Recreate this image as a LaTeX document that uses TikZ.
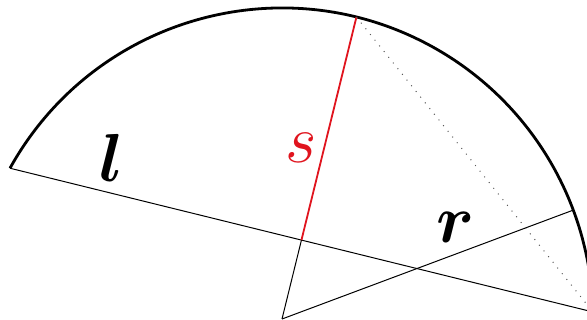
\documentclass[tikz,border=0pt]{standalone}
\usepackage{amsmath}
\usetikzlibrary{calc}
\definecolor{sagred}{HTML}{E0141E}

\begin{document}
\begin{tikzpicture}[x=1pt, y=-1pt,
      thin line/.style={line width=1pt, black},
      rim/.style={line width=2.8pt, black},
      lbl/.style={anchor=base, inner sep=0pt, scale=2.73, transform shape, font=\Huge\boldmath}
    ]
      \useasboundingbox (0,0) rectangle (587,320);
      \clip (0,0) rectangle (587,320);
      % centre and points on the circle
      \coordinate (O) at (282,319);
      \coordinate (A) at ($(O)+(151:311 and -311)$);
      \coordinate (B) at ($(O)+(1.3:311 and -311)$);
      \coordinate (P) at ($(O)+(76.15:311 and -311)$);
      \coordinate (Q) at ($(O)+(20.5:311 and -311)$);
      \coordinate (M) at ($(A)!0.5!(B)$);

      \draw[rim] (A) arc[start angle=151, end angle=1.3, x radius=311, y radius=-311];
      \draw[thin line] (A) -- (B);
      \draw[thin line] (O) -- (M);
      \draw[line width=1.8pt, sagred] (M) -- (P);
      \draw[thin line] (O) -- (Q);
      \draw[line width=1pt, gray!70!black, dash pattern=on 1pt off 6.3pt] (P) -- (B);

      \node[lbl] (l) at (112,182) {$l$};
      \node[lbl] (r) at (456,243) {$r$};
      \node[lbl, sagred, font=\Huge] (s) at (301,163) {$s$};
    \end{tikzpicture}
\end{document}
